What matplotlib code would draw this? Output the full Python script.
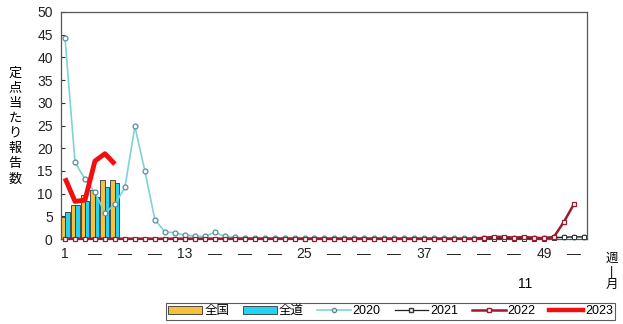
import matplotlib
matplotlib.use("Agg")
import matplotlib.pyplot as plt
from matplotlib.lines import Line2D
from matplotlib.patches import Patch

plt.rcParams['font.family'] = ['Liberation Sans', 'Noto Sans CJK JP', 'DejaVu Sans']

weeks = list(range(1, 54))
bar_weeks = [1, 2, 3, 4, 5, 6]
zenkoku = [4.9, 7.6, 9.7, 10.8, 13.0, 13.1]
zendo = [6.0, 7.5, 8.4, 9.3, 11.5, 12.3]

y2020 = [44.2, 16.9, 13.2, 10.3, 5.7, 7.7, 11.4, 24.8, 15.0, 4.3, 1.6, 1.4, 0.9, 0.6, 0.6, 1.5,
         0.6, 0.4, 0.3, 0.3, 0.3, 0.3, 0.3, 0.3, 0.3, 0.3, 0.3, 0.3, 0.3, 0.3, 0.3, 0.3,
         0.3, 0.3, 0.3, 0.3, 0.3, 0.3, 0.3, 0.3, 0.3, 0.3, 0.3, 0.3, 0.3, 0.3, 0.3, 0.3,
         0.3, 0.4, 0.4, 0.5, 0.5]
y2021 = [0.1] * 49 + [0.3, 0.4, 0.5, 0.5]
y2022 = [0.1] * 42 + [0.3, 0.5, 0.5, 0.3, 0.5, 0.3, 0.2, 0.5, 3.8, 7.7]
weeks2022 = list(range(1, 53))
y2023 = [13.4, 8.3, 8.6, 17.2, 18.8, 16.5]
weeks2023 = [1, 2, 3, 4, 5, 6]

xtick_pos = list(range(1, 54, 3))
xtick_labels = ['1', '—', '—', '—', '13', '—', '—', '—', '25', '—', '—', '—', '37', '—', '—', '—', '49', '—']
yticks = list(range(0, 55, 5))

c_orange = '#F7C13C'
c_cyan = '#22D3F2'
c_2020 = '#7ED3D6'
c_2022 = '#9B1B30'
c_2023 = '#F01010'

fig = plt.figure(figsize=(6.23, 3.24), dpi=100)
ax = fig.add_axes([0.098, 0.262, 0.844, 0.701])

bw = 0.45
ax.bar([w - bw / 2 for w in bar_weeks], zenkoku, width=bw, color=c_orange, edgecolor='#333333', linewidth=0.6, zorder=2)
ax.bar([w + bw / 2 for w in bar_weeks], zendo, width=bw, color=c_cyan, edgecolor='#333333', linewidth=0.6, zorder=2)

ax.plot(weeks, y2020, color=c_2020, lw=1.2, marker='o', ms=3.5, mfc='white', mec='#5a8a9a', mew=0.9, zorder=3, clip_on=False)
ax.plot(weeks, y2021, color='#222222', lw=0.9, marker='s', ms=3.2, mfc='white', mec='#333333', mew=0.7, zorder=3, clip_on=False)
ax.plot(weeks2022, y2022, color=c_2022, lw=1.8, marker='s', ms=3.5, mfc='white', mec=c_2022, mew=0.9, zorder=4, clip_on=False)
ax.plot(weeks2023, y2023, color=c_2023, lw=3.5, zorder=5, solid_capstyle='butt')

ax.set_xlim(0.6, 53.3)
ax.set_ylim(0, 50)
ax.set_yticks(yticks)
ax.tick_params(axis='y', direction='in', length=3, labelsize=10, pad=6, colors='#333333', labelcolor='#222222')
ax.set_xticks(xtick_pos)
ax.set_xticklabels(xtick_labels)
ax.tick_params(axis='x', length=0, labelsize=10, pad=6, labelcolor='#222222')
for s in ax.spines.values():
    s.set_color('#555555')
    s.set_linewidth(0.9)

fig.text(0.024, 0.61, '\n'.join('定点当たり報告数'), ha='center', va='center', fontsize=9.5, linespacing=1.35)
fig.text(0.982, 0.16, '週\n|\n月', ha='center', va='center', fontsize=9, linespacing=1.1)
fig.text(0.843, 0.125, '11', ha='center', va='center', fontsize=10)

handles = [
    Patch(facecolor=c_orange, edgecolor='#333333', linewidth=0.6),
    Patch(facecolor=c_cyan, edgecolor='#333333', linewidth=0.6),
    Line2D([], [], color=c_2020, lw=1.2, marker='o', ms=3, mfc='white', mec='#5a8a9a'),
    Line2D([], [], color='#222222', lw=0.9, marker='s', ms=3, mfc='white', mec='#333333'),
    Line2D([], [], color=c_2022, lw=1.8, marker='s', ms=3, mfc='white', mec=c_2022),
    Line2D([], [], color=c_2023, lw=3.2),
]
labels = ['全国', '全道', '2020', '2021', '2022', '2023']
leg = fig.legend(handles, labels, ncol=6, loc='center', bbox_to_anchor=(0.627, 0.040),
                 fontsize=9, frameon=True, fancybox=False, edgecolor='#333333',
                 handlelength=2.7, handleheight=0.6, handletextpad=0.15, columnspacing=1.1, borderpad=0.2)
leg.get_frame().set_linewidth(0.8)

fig.savefig('out.png', dpi=100)
